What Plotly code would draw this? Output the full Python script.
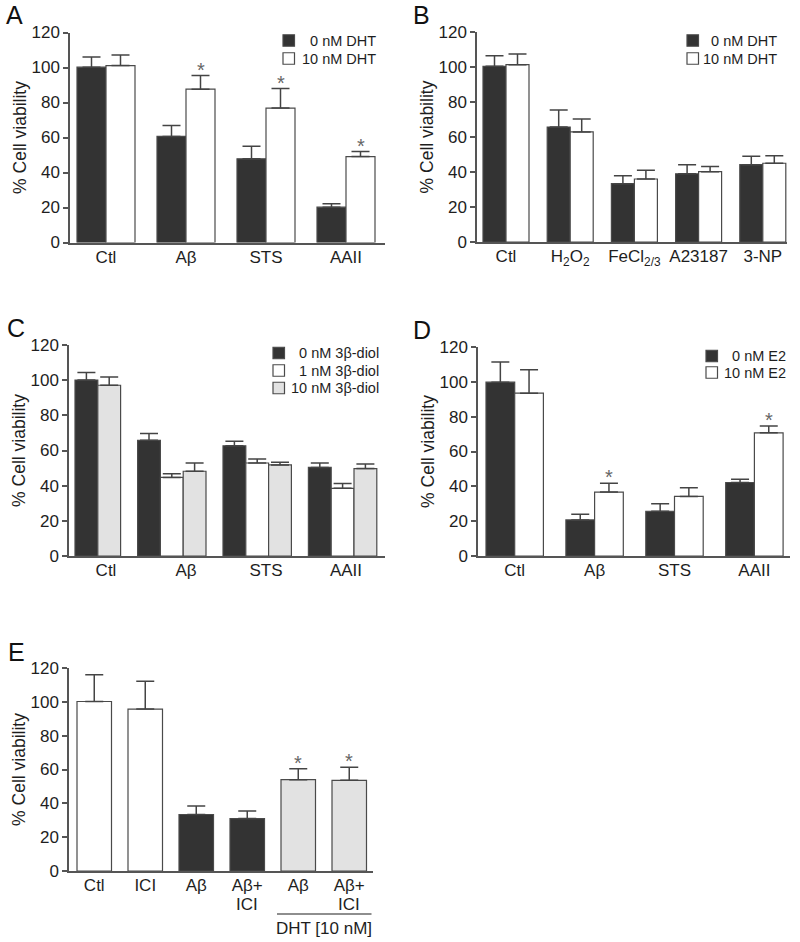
import plotly.graph_objects as go

# ---------------- data ----------------
A_categories = ["Ctl", "Aβ", "STS", "AAII"]
A_series_names = ["0 nM DHT", "10 nM DHT"]
A_0nM = [100.2, 60.6, 47.8, 20.2]
A_0nM_err = [5.8, 6.3, 7.2, 1.9]
A_10nM = [101.1, 87.6, 76.8, 49.1]
A_10nM_err = [6.1, 7.8, 11.2, 2.9]
A_10nM_sig = [False, True, True, True]

B_categories = ["Ctl", "H<sub>2</sub>O<sub>2</sub>", "FeCl<sub>2/3</sub>", "A23187", "3-NP"]
B_series_names = ["0 nM DHT", "10 nM DHT"]
B_0nM = [100.4, 65.7, 33.3, 39.0, 44.2]
B_0nM_err = [6.1, 9.7, 4.6, 5.2, 4.8]
B_10nM = [101.3, 62.9, 36.0, 40.2, 45.0]
B_10nM_err = [6.1, 7.4, 5.0, 3.0, 4.3]

C_categories = ["Ctl", "Aβ", "STS", "AAII"]
C_series_names = ["0 nM 3β-diol", "1 nM 3β-diol", "10 nM 3β-diol"]
C_0nM = [100.1, 65.8, 62.7, 50.4]
C_0nM_err = [4.2, 3.8, 2.5, 2.5]
C_1nM = [None, 44.7, 52.9, 38.5]
C_1nM_err = [None, 2.1, 2.3, 2.8]
C_10nM = [97.1, 48.2, 51.8, 49.7]
C_10nM_err = [4.7, 4.7, 1.5, 2.6]

D_categories = ["Ctl", "Aβ", "STS", "AAII"]
D_series_names = ["0 nM E2", "10 nM E2"]
D_0nM = [99.8, 20.7, 25.7, 42.2]
D_0nM_err = [11.6, 3.3, 4.3, 1.8]
D_10nM = [93.5, 36.7, 34.2, 70.7]
D_10nM_err = [13.5, 5.0, 5.0, 4.0]
D_10nM_sig = [False, True, False, True]

E_categories = ["Ctl", "ICI", "Aβ", "Aβ+<br>ICI", "Aβ", "Aβ+<br>ICI"]
E_values = [100.2, 95.7, 33.4, 31.0, 54.0, 53.6]
E_err = [15.8, 16.4, 5.0, 4.4, 6.5, 7.7]
E_treatment = ["none", "none", "Aβ", "Aβ", "DHT", "DHT"]
E_sig = [False, False, False, False, True, True]
E_bracket_label = "DHT [10 nM]"

Y_TICKS = [0, 20, 40, 60, 80, 100, 120]
Y_TITLE = "% Cell viability"

# ---------------- style ----------------
W, H = 800, 942
FONT = "Liberation Sans, Arial, Helvetica, sans-serif"
TEXT = "#1e1e1e"
AXIS = "#555555"
DARK = "#333333"
WHITE = "#ffffff"
LIGHT = "#e2e2e2"
EDGE = "#4a4a4a"
ERR = "#444444"
STAR = "#666666"
E_COLORS = {"none": WHITE, "Aβ": DARK, "DHT": LIGHT}
TICK_SIZE = 17
LABEL_LINE = 23  # px shift of the second line of a two-line category label

# panel geometry in pixels (axis box, bar width, gaps)
PANELS = {
    "A": dict(n=1, left=70, right=385, top=32.5, bottom=242.5, pad=7, bar=29, gap=22),
    "B": dict(n=2, left=477, right=787, top=32, bottom=242, pad=6, bar=23, gap=18.2),
    "C": dict(n=3, left=69, right=385, top=345, bottom=556, pad=6, bar=22.8, gap=17),
    "D": dict(n=4, left=478, right=790, top=347, bottom=556, pad=8, bar=28.7, gap=22.5),
    "E": dict(n=5, left=69, right=373, top=668, bottom=871, pad=8, bar=34.5, gap=16.5),
}
LEGENDS = {
    "A": dict(sq=283, y0=40.5, dy=18, right=378),
    "B": dict(sq=687, y0=40.5, dy=18, right=779),
    "C": dict(sq=273, y0=353, dy=17.5, right=381),
    "D": dict(sq=706, y0=356, dy=16.5, right=788),
}
LETTERS = {"A": (5, 0), "B": (412, 0), "C": (6, 313), "D": (412, 315), "E": (7, 637)}


def px_x(px):
    return px / W


def px_y(py):
    return 1 - py / H


def bar_layout(series, cfg):
    """Place bars sequentially: pad, then groups of adjacent bars separated by gap."""
    ng = len(series[0])
    centers = [[None] * ng for _ in series]
    gcent = []
    x = cfg["pad"]
    for g in range(ng):
        start = x
        for s, vals in enumerate(series):
            if vals[g] is None:
                continue
            centers[s][g] = x + cfg["bar"] / 2
            x += cfg["bar"]
        gcent.append((start + x) / 2)
        x += cfg["gap"]
    return centers, gcent


fig = go.Figure()
annotations = []
shapes = []


def add_axes(key, tickvals, ticktext):
    cfg = PANELS[key]
    n = cfg["n"]
    sfx = "" if n == 1 else str(n)
    first_lines = [t.split("<br>")[0] for t in ticktext]
    fig.layout["xaxis" + sfx] = dict(
        domain=[px_x(cfg["left"]), px_x(cfg["right"])],
        range=[0, cfg["right"] - cfg["left"]],
        anchor="y" + sfx, showgrid=False, zeroline=False, automargin=False,
        showline=True, linecolor=AXIS, linewidth=1.5,
        ticks="", tickvals=tickvals, ticktext=first_lines, ticklabelstandoff=-2,
        tickfont=dict(family=FONT, size=TICK_SIZE, color=TEXT),
        fixedrange=True,
    )
    fig.layout["yaxis" + sfx] = dict(
        domain=[px_y(cfg["bottom"]), px_y(cfg["top"])],
        range=[0, 120], anchor="x" + sfx, showgrid=False, zeroline=False, automargin=False,
        showline=True, linecolor=AXIS, linewidth=1.5,
        ticks="outside", ticklen=5, tickwidth=1.5, tickcolor=AXIS,
        tickvals=Y_TICKS, tickfont=dict(family=FONT, size=TICK_SIZE, color=TEXT),
        title=dict(text=Y_TITLE, font=dict(family=FONT, size=17.5, color=TEXT), standoff=0),
        fixedrange=True,
    )
    # further lines of two-line category labels, set with a tighter line spacing
    for xv, t in zip(tickvals, ticktext):
        for k, line in enumerate(t.split("<br>")[1:], start=1):
            annotations.append(dict(
                x=xv, y=0, xref="x" + sfx, yref="y" + sfx, text=line, showarrow=False,
                xanchor="center", yanchor="top", yshift=-(LABEL_LINE * k), borderpad=0,
                font=dict(family=FONT, size=TICK_SIZE, color=TEXT)))
    return "x" + sfx, "y" + sfx


def add_series(key, xs, vals, errs, colors, xa, ya):
    cfg = PANELS[key]
    idx = [i for i, v in enumerate(vals) if v is not None]
    fig.add_trace(go.Bar(
        x=[xs[i] for i in idx], y=[vals[i] for i in idx],
        width=cfg["bar"],
        marker=dict(color=[colors[i] for i in idx] if isinstance(colors, list) else colors,
                    line=dict(color=EDGE, width=1.2)),
        error_y=dict(type="data", symmetric=False,
                     array=[errs[i] for i in idx], arrayminus=[0] * len(idx),
                     color=ERR, thickness=1.5, width=9),
        xaxis=xa, yaxis=ya, showlegend=False, hoverinfo="skip",
    ))


def add_stars(xs, vals, errs, sig, xa, ya):
    for i, s in enumerate(sig):
        if s:
            annotations.append(dict(
                x=xs[i], y=vals[i] + errs[i], xref=xa, yref=ya, text="*",
                showarrow=False, xanchor="center", yanchor="bottom", yshift=-7,
                font=dict(family=FONT, size=20, color=STAR)))


def add_legend(key, names, colors):
    lg = LEGENDS[key]
    s = 11.5
    for i, (nm, col) in enumerate(zip(names, colors)):
        yc = lg["y0"] + i * lg["dy"]
        shapes.append(dict(type="rect", xref="paper", yref="paper",
                           x0=px_x(lg["sq"]), x1=px_x(lg["sq"] + s),
                           y0=px_y(yc + s / 2), y1=px_y(yc - s / 2),
                           fillcolor=col, line=dict(color=EDGE, width=1.2)))
        annotations.append(dict(x=px_x(lg["right"]), y=px_y(yc), xref="paper", yref="paper",
                                text=nm, showarrow=False, xanchor="right", yanchor="middle",
                                font=dict(family=FONT, size=14.5, color=TEXT)))


# ---- Panel A ----
(ca0, ca1), A_g = bar_layout([A_0nM, A_10nM], PANELS["A"])
xa, ya = add_axes("A", A_g, A_categories)
add_series("A", ca0, A_0nM, A_0nM_err, DARK, xa, ya)
add_series("A", ca1, A_10nM, A_10nM_err, WHITE, xa, ya)
add_stars(ca1, A_10nM, A_10nM_err, A_10nM_sig, xa, ya)
add_legend("A", ["\u20070 nM DHT", "10 nM DHT"], [DARK, WHITE])

# ---- Panel B ----
(cb0, cb1), B_g = bar_layout([B_0nM, B_10nM], PANELS["B"])
xb, yb = add_axes("B", B_g, B_categories)
add_series("B", cb0, B_0nM, B_0nM_err, DARK, xb, yb)
add_series("B", cb1, B_10nM, B_10nM_err, WHITE, xb, yb)
add_legend("B", ["\u20070 nM DHT", "10 nM DHT"], [DARK, WHITE])

# ---- Panel C ----
(cc0, cc1, cc2), C_g = bar_layout([C_0nM, C_1nM, C_10nM], PANELS["C"])
# in the original figure the category labels of C sit where those of A sit
C_label_pos = [g + PANELS["A"]["left"] - PANELS["C"]["left"] for g in A_g]
xc, yc = add_axes("C", C_label_pos, C_categories)
add_series("C", cc0, C_0nM, C_0nM_err, DARK, xc, yc)
add_series("C", cc1, C_1nM, C_1nM_err, WHITE, xc, yc)
add_series("C", cc2, C_10nM, C_10nM_err, LIGHT, xc, yc)
add_legend("C", ["\u20070 nM 3β-diol", "\u20071 nM 3β-diol", "10 nM 3β-diol"], [DARK, WHITE, LIGHT])

# ---- Panel D ----
(cd0, cd1), D_g = bar_layout([D_0nM, D_10nM], PANELS["D"])
xd, yd = add_axes("D", D_g, D_categories)
add_series("D", cd0, D_0nM, D_0nM_err, DARK, xd, yd)
add_series("D", cd1, D_10nM, D_10nM_err, WHITE, xd, yd)
add_stars(cd1, D_10nM, D_10nM_err, D_10nM_sig, xd, yd)
add_legend("D", ["\u20070 nM E2", "10 nM E2"], [DARK, WHITE])

# ---- Panel E ----
(ce,), E_g = bar_layout([E_values], PANELS["E"])
xe, ye = add_axes("E", E_g, E_categories)
add_series("E", ce, E_values, E_err, [E_COLORS[t] for t in E_treatment], xe, ye)
add_stars(ce, E_values, E_err, E_sig, xe, ye)
dht = [i for i, t in enumerate(E_treatment) if t == "DHT"]
bx0 = ce[dht[0]] - PANELS["E"]["bar"] / 2 - 4
bx1 = ce[dht[-1]] + PANELS["E"]["bar"] / 2 + 5
shapes.append(dict(type="line", xref=xe, yref="paper", x0=bx0, x1=bx1,
                   y0=px_y(914), y1=px_y(914), line=dict(color=TEXT, width=1.2)))
annotations.append(dict(x=(bx0 + bx1) / 2, y=px_y(928), xref=xe, yref="paper",
                        text=E_bracket_label, showarrow=False, xanchor="center", yanchor="middle",
                        font=dict(family=FONT, size=TICK_SIZE, color=TEXT)))

# ---- panel letters ----
for letter, (lx, ly) in LETTERS.items():
    annotations.append(dict(x=px_x(lx), y=px_y(ly), xref="paper", yref="paper", text=letter,
                            showarrow=False, xanchor="left", yanchor="top", borderpad=0,
                            font=dict(family=FONT, size=25, color="#111111")))

fig.update_layout(
    width=W, height=H, margin=dict(l=0, r=0, t=0, b=0, autoexpand=False),
    paper_bgcolor="white", plot_bgcolor="white",
    barmode="overlay", showlegend=False,
    annotations=annotations, shapes=shapes,
    font=dict(family=FONT, color=TEXT),
)

fig.write_html("out.html", config={"displayModeBar": False},
               post_script="document.body.style.margin='0px';")
